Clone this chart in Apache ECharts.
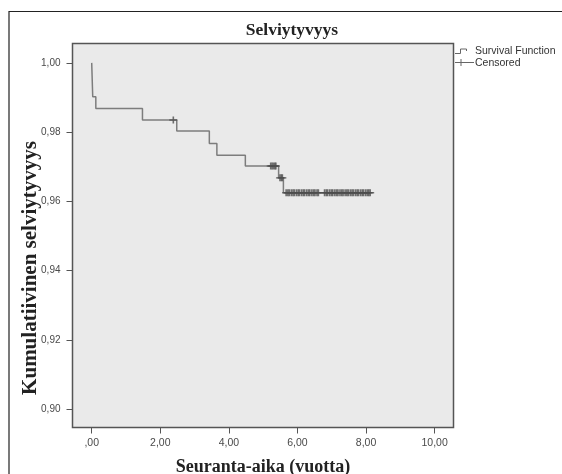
<!DOCTYPE html>
<html>
<head>
<meta charset="utf-8">
<script src="https://cdn.jsdelivr.net/npm/echarts@6/dist/echarts.min.js"></script>
<style>
html,body{margin:0;padding:0;background:#fff;}
#chart{width:562px;height:474px;}
</style>
</head>
<body>
<div id="chart"></div>
<script>
// Kaplan-Meier step points (time in years, cumulative survival)
var survTimes  = [0, 0.03, 0.12, 1.48, 2.48, 3.43, 3.65, 4.48, 5.45, 5.59, 8.12];
var survValues = [1.000, 0.9902, 0.9868, 0.9835, 0.9803, 0.9767, 0.9733, 0.9702, 0.9668, 0.9625, 0.9625];

// Censored observation times (years)
var censoredTimes = [
  2.38,
  5.22, 5.26, 5.30, 5.34, 5.37,
  5.49, 5.53, 5.56,
  5.67, 5.72, 5.76, 5.82, 5.87, 5.91, 5.97, 6.02, 6.06, 6.12, 6.17, 6.21, 6.27, 6.32,
  6.36, 6.42, 6.47, 6.51, 6.57, 6.61,
  6.79, 6.84, 6.88, 6.94, 6.99, 7.03, 7.09, 7.14, 7.18, 7.24, 7.29, 7.33, 7.39, 7.44,
  7.48, 7.54, 7.59, 7.63, 7.69, 7.74, 7.78, 7.84, 7.89, 7.93, 7.99, 8.04, 8.08, 8.12
];

var xTickValues = [0, 2, 4, 6, 8, 10];
var xTickLabels = [',00', '2,00', '4,00', '6,00', '8,00', '10,00'];
var yTickValues = [0.90, 0.92, 0.94, 0.96, 0.98, 1.00];
var yTickLabels = ['0,90', '0,92', '0,94', '0,96', '0,98', '1,00'];

var titleText = 'Selviytyvyys';
var xTitle = 'Seuranta-aika (vuotta)';
var yTitle = 'Kumulatiivinen selviytyvyys';
var legendNames = ['Survival Function', 'Censored'];

function survivalAt(t) {
  var v = survValues[0];
  for (var i = 0; i < survTimes.length; i++) {
    if (survTimes[i] <= t) v = survValues[i];
  }
  return v;
}

var survData = survTimes.map(function (t, i) { return [t, survValues[i]]; });
var censData = censoredTimes.map(function (t) { return [t, survivalAt(t)]; });

var chart = echarts.init(document.getElementById('chart'), null, {renderer: 'canvas'});

var axisTextColor = '#4a4a4a';
var frameColor = '#555555';

chart.setOption({
  animation: false,
  backgroundColor: '#ffffff',
  title: {
    text: titleText,
    left: 292,
    top: 21,
    padding: 0,
    textAlign: 'center',
    textStyle: {
      fontFamily: 'Liberation Serif',
      fontWeight: 'bold',
      fontSize: 17.5,
      color: '#222'
    }
  },
  grid: {
    left: 72.5,
    top: 43.5,
    right: 108.5,
    bottom: 46.5,
    containLabel: false,
    outerBoundsMode: 'none',
    show: true,
    backgroundColor: '#eaeaea',
    borderColor: frameColor,
    borderWidth: 1.5
  },
  xAxis: {
    type: 'value',
    min: -0.56,
    max: 10.55,
    name: xTitle,
    nameLocation: 'middle',
    nameGap: 31,
    nameTextStyle: {
      fontFamily: 'Liberation Serif',
      fontWeight: 'bold',
      fontSize: 18,
      color: '#222'
    },
    axisLine: {show: false, onZero: false},
    splitLine: {show: false},
    axisTick: {
      show: true,
      length: 6,
      customValues: xTickValues,
      lineStyle: {color: frameColor, width: 1}
    },
    axisLabel: {
      customValues: xTickValues,
      margin: 10.5,
      fontFamily: 'Liberation Sans',
      fontSize: 10.5,
      color: axisTextColor,
      formatter: function (v) {
        var i = xTickValues.indexOf(Math.round(v));
        return i >= 0 ? xTickLabels[i] : '';
      }
    }
  },
  yAxis: {
    type: 'value',
    min: 0.8947,
    max: 1.0056,
    axisLine: {show: false, onZero: false},
    splitLine: {show: false},
    axisTick: {
      show: true,
      length: 6,
      customValues: yTickValues,
      lineStyle: {color: frameColor, width: 1}
    },
    axisLabel: {
      customValues: yTickValues,
      margin: 12,
      fontFamily: 'Liberation Sans',
      fontSize: 10,
      color: axisTextColor,
      formatter: function (v) {
        for (var i = 0; i < yTickValues.length; i++) {
          if (Math.abs(yTickValues[i] - v) < 1e-6) return yTickLabels[i];
        }
        return '';
      }
    }
  },
  series: [
    {
      name: legendNames[0],
      type: 'line',
      step: 'end',
      data: survData,
      showSymbol: false,
      lineStyle: {color: '#7d7d7d', width: 1.5},
      z: 2
    },
    {
      name: legendNames[1],
      type: 'scatter',
      data: censData,
      symbol: 'path://M0,4L8,4M4,0L4,8',
      symbolSize: [8, 7],
      itemStyle: {color: 'rgba(0,0,0,0)', borderColor: '#4d4d4d', borderWidth: 1.5},
      z: 3
    }
  ],
  graphic: [
    // outer frame
    {
      type: 'rect',
      shape: {x: 9, y: 11.5, width: 580, height: 490},
      style: {fill: null, stroke: '#222', lineWidth: 1.2},
      silent: true,
      z: 10
    },
    // y-axis title
    {
      type: 'text',
      x: 31,
      y: 268,
      rotation: Math.PI / 2,
      style: {
        text: yTitle,
        fontFamily: 'Liberation Serif',
        fontWeight: 'bold',
        fontSize: 21,
        fill: '#222',
        textAlign: 'center',
        textVerticalAlign: 'middle'
      }
    },
    // legend: survival function symbol
    {
      type: 'polyline',
      shape: {points: [[455, 53.5], [460.5, 53.5], [460.5, 49], [466.5, 49], [466.5, 51]]},
      style: {stroke: '#666', lineWidth: 1, fill: null}
    },
    {
      type: 'text',
      x: 475,
      y: 51,
      style: {
        text: legendNames[0],
        fontFamily: 'Liberation Sans',
        fontSize: 10.5,
        fill: '#333',
        textVerticalAlign: 'middle'
      }
    },
    // legend: censored symbol
    {
      type: 'line',
      shape: {x1: 455, y1: 62.5, x2: 474, y2: 62.5},
      style: {stroke: '#666', lineWidth: 1}
    },
    {
      type: 'line',
      shape: {x1: 461, y1: 59, x2: 461, y2: 66},
      style: {stroke: '#666', lineWidth: 1}
    },
    {
      type: 'text',
      x: 475,
      y: 63,
      style: {
        text: legendNames[1],
        fontFamily: 'Liberation Sans',
        fontSize: 10.5,
        fill: '#333',
        textVerticalAlign: 'middle'
      }
    }
  ]
});
</script>
</body>
</html>
